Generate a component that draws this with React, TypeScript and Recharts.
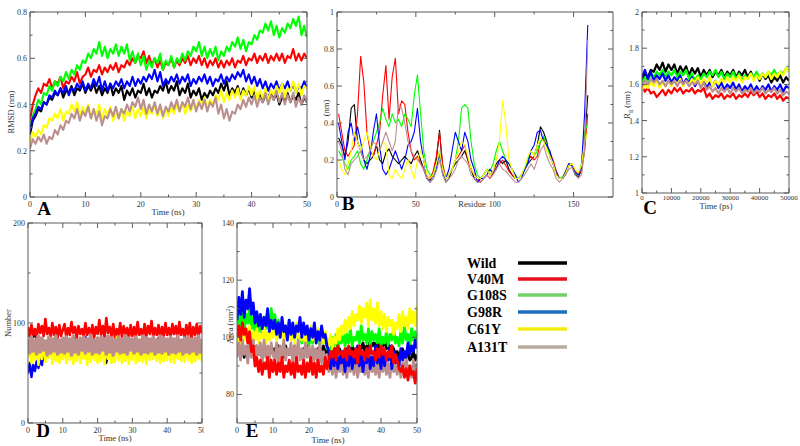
import React from 'react';
import { LineChart, Line, XAxis, YAxis } from 'recharts';

const SERIF = "'Liberation Serif', 'Times New Roman', Times, serif";
const FRAME = '#5a5a5a';
const INK = '#333333';

const names = ['Wild', 'V40M', 'G108S', 'G98R', 'C61Y', 'A131T'];
const keys = ['wild', 'v40m', 'g108s', 'g98r', 'c61y', 'a131t'];
const plotColors: Record<string, string> = {
  wild: '#000000',
  v40m: '#ff0000',
  g108s: '#00ff00',
  g98r: '#0000ff',
  c61y: '#ffff00',
  a131t: '#bc8f8f',
};
const legendColors = ['#000000', '#e8101c', '#74d06a', '#1f6fc0', '#f2ec12', '#b9ab9c'];

// ---- A: RMSD (nm) vs time (ns), every 0.5 ns
const halfNs = Array.from({ length: 101 }, (_, i) => i / 2);
const aWild = [0.27, 0.33, 0.35, 0.38, 0.37, 0.41, 0.4, 0.43, 0.42, 0.45, 0.44, 0.47, 0.43, 0.46, 0.45, 0.48, 0.44, 0.47, 0.46, 0.49, 0.45, 0.48, 0.46, 0.49, 0.45, 0.48, 0.44, 0.47, 0.45, 0.49, 0.44, 0.47, 0.45, 0.48, 0.42, 0.46, 0.44, 0.47, 0.43, 0.46, 0.45, 0.49, 0.44, 0.47, 0.43, 0.46, 0.45, 0.48, 0.46, 0.5, 0.45, 0.48, 0.46, 0.5, 0.44, 0.47, 0.45, 0.49, 0.43, 0.46, 0.44, 0.47, 0.42, 0.45, 0.43, 0.46, 0.44, 0.47, 0.45, 0.49, 0.46, 0.5, 0.44, 0.47, 0.45, 0.48, 0.43, 0.47, 0.44, 0.47, 0.43, 0.46, 0.42, 0.45, 0.41, 0.44, 0.43, 0.46, 0.42, 0.45, 0.4, 0.43, 0.42, 0.45, 0.41, 0.44, 0.42, 0.45, 0.4, 0.43, 0.41];
const aV40M = [0.33, 0.4, 0.44, 0.47, 0.45, 0.49, 0.48, 0.51, 0.47, 0.5, 0.49, 0.52, 0.47, 0.5, 0.49, 0.52, 0.5, 0.54, 0.49, 0.52, 0.53, 0.56, 0.52, 0.55, 0.54, 0.57, 0.53, 0.56, 0.54, 0.57, 0.55, 0.58, 0.54, 0.57, 0.56, 0.59, 0.57, 0.6, 0.58, 0.61, 0.6, 0.63, 0.58, 0.61, 0.57, 0.6, 0.56, 0.59, 0.55, 0.58, 0.57, 0.6, 0.56, 0.59, 0.57, 0.6, 0.58, 0.61, 0.57, 0.6, 0.58, 0.61, 0.57, 0.6, 0.56, 0.59, 0.57, 0.6, 0.56, 0.59, 0.56, 0.59, 0.57, 0.6, 0.56, 0.59, 0.58, 0.61, 0.57, 0.6, 0.59, 0.62, 0.58, 0.61, 0.59, 0.62, 0.58, 0.61, 0.59, 0.62, 0.59, 0.62, 0.58, 0.61, 0.6, 0.64, 0.59, 0.62, 0.59, 0.62, 0.6];
const aG108S = [0.3, 0.35, 0.38, 0.42, 0.4, 0.45, 0.44, 0.48, 0.46, 0.5, 0.48, 0.52, 0.5, 0.54, 0.51, 0.55, 0.53, 0.57, 0.55, 0.59, 0.58, 0.62, 0.6, 0.64, 0.62, 0.67, 0.61, 0.65, 0.6, 0.64, 0.62, 0.66, 0.61, 0.65, 0.62, 0.66, 0.59, 0.63, 0.58, 0.62, 0.57, 0.61, 0.55, 0.59, 0.56, 0.6, 0.58, 0.62, 0.55, 0.59, 0.57, 0.61, 0.56, 0.6, 0.58, 0.62, 0.59, 0.63, 0.61, 0.65, 0.63, 0.67, 0.61, 0.65, 0.6, 0.64, 0.61, 0.65, 0.59, 0.63, 0.61, 0.65, 0.63, 0.67, 0.65, 0.69, 0.64, 0.68, 0.63, 0.67, 0.66, 0.7, 0.68, 0.72, 0.71, 0.75, 0.72, 0.76, 0.7, 0.74, 0.69, 0.73, 0.71, 0.75, 0.73, 0.77, 0.74, 0.78, 0.7, 0.74, 0.69];
const aG98R = [0.29, 0.34, 0.36, 0.39, 0.38, 0.41, 0.4, 0.44, 0.43, 0.46, 0.44, 0.47, 0.45, 0.48, 0.44, 0.47, 0.46, 0.49, 0.47, 0.5, 0.46, 0.49, 0.47, 0.51, 0.48, 0.52, 0.46, 0.5, 0.46, 0.49, 0.47, 0.5, 0.48, 0.51, 0.47, 0.5, 0.48, 0.52, 0.48, 0.51, 0.49, 0.52, 0.5, 0.53, 0.51, 0.55, 0.5, 0.54, 0.48, 0.51, 0.49, 0.52, 0.5, 0.53, 0.49, 0.52, 0.5, 0.53, 0.48, 0.51, 0.49, 0.52, 0.5, 0.53, 0.49, 0.52, 0.48, 0.51, 0.5, 0.53, 0.49, 0.52, 0.5, 0.53, 0.51, 0.54, 0.52, 0.55, 0.5, 0.53, 0.49, 0.52, 0.48, 0.51, 0.47, 0.5, 0.46, 0.49, 0.47, 0.5, 0.46, 0.49, 0.47, 0.5, 0.46, 0.49, 0.45, 0.48, 0.47, 0.5, 0.47];
const aC61Y = [0.24, 0.28, 0.26, 0.29, 0.27, 0.31, 0.3, 0.34, 0.33, 0.36, 0.34, 0.38, 0.33, 0.37, 0.36, 0.4, 0.37, 0.41, 0.35, 0.39, 0.36, 0.4, 0.34, 0.38, 0.36, 0.4, 0.34, 0.38, 0.35, 0.39, 0.33, 0.37, 0.34, 0.38, 0.33, 0.37, 0.35, 0.39, 0.34, 0.38, 0.35, 0.39, 0.34, 0.38, 0.36, 0.4, 0.35, 0.39, 0.34, 0.38, 0.35, 0.39, 0.36, 0.4, 0.37, 0.41, 0.36, 0.4, 0.37, 0.41, 0.38, 0.42, 0.39, 0.43, 0.38, 0.42, 0.4, 0.44, 0.42, 0.46, 0.41, 0.45, 0.42, 0.46, 0.43, 0.47, 0.42, 0.46, 0.44, 0.48, 0.44, 0.48, 0.42, 0.46, 0.43, 0.47, 0.42, 0.46, 0.44, 0.48, 0.45, 0.49, 0.43, 0.47, 0.46, 0.5, 0.45, 0.49, 0.44, 0.48, 0.47];
const aA131T = [0.21, 0.25, 0.23, 0.26, 0.24, 0.27, 0.23, 0.26, 0.25, 0.29, 0.27, 0.31, 0.29, 0.33, 0.32, 0.36, 0.34, 0.38, 0.33, 0.37, 0.35, 0.39, 0.34, 0.38, 0.33, 0.37, 0.31, 0.35, 0.34, 0.38, 0.35, 0.39, 0.34, 0.38, 0.36, 0.4, 0.37, 0.41, 0.39, 0.43, 0.38, 0.42, 0.36, 0.4, 0.37, 0.41, 0.36, 0.4, 0.35, 0.39, 0.37, 0.41, 0.38, 0.42, 0.37, 0.41, 0.39, 0.43, 0.38, 0.42, 0.37, 0.41, 0.38, 0.42, 0.37, 0.41, 0.39, 0.43, 0.36, 0.4, 0.34, 0.38, 0.33, 0.37, 0.36, 0.4, 0.38, 0.42, 0.39, 0.43, 0.4, 0.44, 0.39, 0.43, 0.41, 0.45, 0.4, 0.44, 0.42, 0.46, 0.41, 0.45, 0.4, 0.44, 0.41, 0.45, 0.39, 0.43, 0.4, 0.44, 0.41];

// ---- B: RMSF (nm) per residue (odd residues 1..159)
const residues = Array.from({ length: 80 }, (_, i) => 1 + 2 * i);
const bWild = [0.32, 0.28, 0.22, 0.3, 0.48, 0.5, 0.3, 0.25, 0.2, 0.18, 0.2, 0.22, 0.28, 0.2, 0.18, 0.24, 0.26, 0.22, 0.2, 0.18, 0.2, 0.22, 0.2, 0.18, 0.22, 0.25, 0.2, 0.15, 0.1, 0.09, 0.12, 0.2, 0.36, 0.15, 0.08, 0.1, 0.15, 0.18, 0.2, 0.22, 0.25, 0.2, 0.15, 0.1, 0.08, 0.1, 0.12, 0.15, 0.12, 0.14, 0.18, 0.2, 0.18, 0.2, 0.15, 0.12, 0.1, 0.1, 0.12, 0.15, 0.18, 0.2, 0.22, 0.28, 0.38, 0.35, 0.3, 0.22, 0.18, 0.14, 0.1, 0.1, 0.13, 0.18, 0.17, 0.12, 0.11, 0.14, 0.3, 0.55];
const bV40M = [0.45, 0.35, 0.25, 0.22, 0.25, 0.28, 0.45, 0.76, 0.62, 0.35, 0.25, 0.22, 0.28, 0.35, 0.55, 0.71, 0.42, 0.65, 0.75, 0.45, 0.52, 0.5, 0.35, 0.25, 0.2, 0.22, 0.18, 0.15, 0.12, 0.1, 0.14, 0.22, 0.35, 0.18, 0.1, 0.12, 0.15, 0.2, 0.22, 0.25, 0.28, 0.2, 0.15, 0.12, 0.1, 0.08, 0.1, 0.12, 0.1, 0.13, 0.16, 0.18, 0.2, 0.17, 0.14, 0.12, 0.1, 0.1, 0.12, 0.15, 0.2, 0.22, 0.2, 0.22, 0.3, 0.32, 0.28, 0.24, 0.2, 0.14, 0.1, 0.1, 0.12, 0.17, 0.18, 0.14, 0.12, 0.14, 0.25, 0.45];
const bG108S = [0.25, 0.22, 0.18, 0.15, 0.2, 0.22, 0.25, 0.18, 0.15, 0.2, 0.25, 0.3, 0.35, 0.4, 0.48, 0.42, 0.38, 0.45, 0.4, 0.42, 0.38, 0.45, 0.42, 0.38, 0.55, 0.66, 0.45, 0.25, 0.15, 0.12, 0.12, 0.18, 0.22, 0.15, 0.1, 0.12, 0.15, 0.2, 0.3, 0.48, 0.5, 0.48, 0.3, 0.18, 0.12, 0.1, 0.12, 0.15, 0.14, 0.18, 0.25, 0.3, 0.25, 0.2, 0.18, 0.15, 0.12, 0.1, 0.12, 0.14, 0.2, 0.25, 0.22, 0.25, 0.3, 0.33, 0.28, 0.22, 0.18, 0.12, 0.1, 0.11, 0.14, 0.18, 0.17, 0.13, 0.12, 0.18, 0.35, 0.4];
const bG98R = [0.4, 0.3, 0.2, 0.35, 0.4, 0.3, 0.38, 0.3, 0.2, 0.15, 0.22, 0.35, 0.45, 0.28, 0.15, 0.12, 0.15, 0.2, 0.25, 0.2, 0.15, 0.2, 0.28, 0.3, 0.35, 0.48, 0.3, 0.2, 0.1, 0.08, 0.1, 0.15, 0.25, 0.12, 0.1, 0.15, 0.25, 0.35, 0.3, 0.25, 0.35, 0.3, 0.2, 0.15, 0.08, 0.1, 0.1, 0.12, 0.15, 0.13, 0.15, 0.2, 0.22, 0.2, 0.18, 0.15, 0.12, 0.08, 0.1, 0.15, 0.18, 0.25, 0.28, 0.35, 0.36, 0.3, 0.28, 0.25, 0.18, 0.13, 0.1, 0.1, 0.14, 0.18, 0.17, 0.13, 0.12, 0.16, 0.45, 0.93];
const bC61Y = [0.2, 0.15, 0.12, 0.18, 0.25, 0.35, 0.3, 0.25, 0.3, 0.35, 0.28, 0.22, 0.2, 0.25, 0.3, 0.28, 0.12, 0.1, 0.15, 0.12, 0.1, 0.15, 0.2, 0.15, 0.1, 0.2, 0.25, 0.2, 0.12, 0.1, 0.12, 0.18, 0.25, 0.15, 0.1, 0.12, 0.15, 0.2, 0.25, 0.3, 0.28, 0.22, 0.15, 0.12, 0.1, 0.1, 0.12, 0.15, 0.12, 0.14, 0.2, 0.3, 0.52, 0.4, 0.2, 0.15, 0.1, 0.1, 0.12, 0.16, 0.22, 0.25, 0.22, 0.28, 0.32, 0.3, 0.25, 0.22, 0.18, 0.12, 0.1, 0.1, 0.13, 0.17, 0.18, 0.15, 0.13, 0.17, 0.3, 0.35];
const bA131T = [0.3, 0.25, 0.15, 0.12, 0.18, 0.2, 0.22, 0.25, 0.2, 0.22, 0.25, 0.3, 0.28, 0.25, 0.3, 0.35, 0.3, 0.25, 0.3, 0.5, 0.48, 0.4, 0.3, 0.25, 0.22, 0.2, 0.18, 0.15, 0.1, 0.08, 0.1, 0.14, 0.2, 0.12, 0.08, 0.1, 0.12, 0.15, 0.2, 0.22, 0.2, 0.18, 0.12, 0.1, 0.08, 0.08, 0.1, 0.12, 0.1, 0.12, 0.15, 0.18, 0.15, 0.14, 0.12, 0.1, 0.08, 0.08, 0.1, 0.12, 0.15, 0.18, 0.15, 0.2, 0.25, 0.28, 0.22, 0.18, 0.15, 0.1, 0.08, 0.1, 0.12, 0.15, 0.16, 0.12, 0.1, 0.12, 0.25, 0.85];

// ---- C: Rg (nm) vs time (ps), every 1000 ps
const psTimes = Array.from({ length: 51 }, (_, i) => i * 1000);
const cWild = [1.62, 1.66, 1.64, 1.68, 1.67, 1.71, 1.68, 1.72, 1.67, 1.71, 1.68, 1.71, 1.66, 1.7, 1.67, 1.7, 1.65, 1.69, 1.66, 1.69, 1.64, 1.68, 1.65, 1.68, 1.64, 1.67, 1.65, 1.68, 1.64, 1.67, 1.65, 1.68, 1.64, 1.67, 1.65, 1.68, 1.64, 1.67, 1.63, 1.66, 1.62, 1.66, 1.63, 1.65, 1.61, 1.64, 1.62, 1.65, 1.61, 1.64, 1.62];
const cV40M = [1.59, 1.56, 1.58, 1.55, 1.56, 1.53, 1.55, 1.57, 1.54, 1.57, 1.55, 1.58, 1.56, 1.58, 1.55, 1.57, 1.56, 1.58, 1.55, 1.57, 1.56, 1.58, 1.53, 1.55, 1.52, 1.54, 1.53, 1.55, 1.52, 1.54, 1.53, 1.55, 1.52, 1.54, 1.53, 1.55, 1.53, 1.56, 1.54, 1.56, 1.53, 1.55, 1.52, 1.54, 1.53, 1.55, 1.52, 1.54, 1.51, 1.53, 1.52];
const cG108S = [1.61, 1.64, 1.62, 1.66, 1.64, 1.67, 1.65, 1.68, 1.64, 1.67, 1.65, 1.68, 1.64, 1.67, 1.65, 1.68, 1.63, 1.66, 1.62, 1.65, 1.63, 1.66, 1.64, 1.67, 1.65, 1.68, 1.64, 1.67, 1.63, 1.66, 1.64, 1.67, 1.63, 1.66, 1.62, 1.65, 1.63, 1.66, 1.64, 1.67, 1.63, 1.66, 1.64, 1.67, 1.65, 1.68, 1.64, 1.67, 1.66, 1.69, 1.67];
const cG98R = [1.64, 1.68, 1.63, 1.67, 1.62, 1.65, 1.63, 1.66, 1.62, 1.65, 1.61, 1.64, 1.62, 1.65, 1.6, 1.63, 1.61, 1.64, 1.59, 1.62, 1.6, 1.62, 1.58, 1.61, 1.59, 1.62, 1.58, 1.61, 1.57, 1.6, 1.58, 1.61, 1.57, 1.6, 1.56, 1.59, 1.57, 1.6, 1.56, 1.59, 1.56, 1.59, 1.57, 1.6, 1.56, 1.59, 1.57, 1.6, 1.56, 1.59, 1.58];
const cC61Y = [1.57, 1.6, 1.58, 1.61, 1.59, 1.62, 1.58, 1.61, 1.59, 1.62, 1.59, 1.62, 1.6, 1.63, 1.59, 1.62, 1.6, 1.63, 1.61, 1.64, 1.6, 1.63, 1.61, 1.64, 1.59, 1.62, 1.6, 1.63, 1.61, 1.64, 1.61, 1.64, 1.62, 1.65, 1.61, 1.64, 1.63, 1.66, 1.62, 1.65, 1.63, 1.66, 1.64, 1.67, 1.63, 1.66, 1.64, 1.67, 1.65, 1.69, 1.67];
const cA131T = [1.59, 1.62, 1.6, 1.63, 1.61, 1.63, 1.6, 1.62, 1.59, 1.62, 1.6, 1.62, 1.59, 1.62, 1.6, 1.62, 1.59, 1.61, 1.6, 1.62, 1.58, 1.61, 1.57, 1.59, 1.56, 1.58, 1.55, 1.58, 1.56, 1.58, 1.55, 1.58, 1.56, 1.58, 1.55, 1.57, 1.56, 1.58, 1.55, 1.57, 1.56, 1.58, 1.55, 1.57, 1.56, 1.58, 1.55, 1.57, 1.54, 1.56, 1.55];

// ---- D: number of H-bonds vs time (ns), every 0.5 ns
const dWild = [95, 87, 97, 86, 90, 80, 84, 76, 80, 74, 79, 75, 80, 74, 78, 76, 81, 75, 79, 74, 80, 75, 79, 76, 81, 74, 78, 75, 80, 76, 79, 74, 81, 75, 78, 76, 80, 74, 79, 75, 80, 76, 78, 74, 80, 60, 66, 75, 79, 74, 81, 76, 78, 75, 80, 74, 79, 76, 81, 75, 78, 74, 80, 76, 79, 75, 78, 74, 81, 76, 79, 75, 80, 74, 78, 76, 81, 75, 79, 74, 80, 76, 78, 75, 80, 74, 79, 76, 81, 75, 78, 74, 80, 76, 79, 75, 81, 74, 78, 76, 79];
const dV40M = [96, 86, 98, 88, 94, 85, 99, 90, 97, 87, 104, 89, 95, 86, 100, 88, 96, 85, 98, 87, 93, 99, 86, 95, 88, 101, 90, 96, 85, 97, 89, 94, 86, 100, 88, 95, 87, 98, 85, 96, 89, 103, 88, 97, 86, 105, 90, 96, 87, 99, 85, 94, 88, 100, 86, 97, 89, 95, 85, 98, 87, 96, 86, 101, 88, 94, 85, 99, 87, 97, 89, 102, 86, 95, 88, 98, 85, 96, 87, 100, 88, 95, 86, 99, 89, 97, 85, 101, 88, 94, 86, 98, 87, 100, 85, 96, 88, 99, 86, 97, 90];
const dG108S = [80, 74, 81, 75, 79, 73, 82, 76, 80, 74, 81, 75, 79, 74, 82, 76, 80, 73, 81, 75, 79, 74, 81, 76, 80, 73, 82, 75, 79, 74, 81, 77, 80, 73, 82, 75, 78, 74, 81, 76, 80, 73, 82, 75, 79, 74, 81, 76, 79, 73, 82, 75, 79, 74, 81, 76, 80, 73, 82, 75, 79, 74, 80, 76, 80, 73, 82, 75, 79, 74, 81, 76, 80, 72, 82, 75, 79, 74, 81, 76, 80, 73, 82, 75, 79, 74, 81, 76, 80, 73, 82, 75, 78, 74, 81, 76, 80, 73, 82, 75, 79];
const dG98R = [50, 60, 46, 58, 52, 62, 55, 64, 58, 70, 66, 76, 70, 78, 72, 80, 71, 79, 73, 81, 72, 80, 70, 82, 71, 79, 73, 84, 70, 81, 72, 78, 71, 86, 73, 80, 70, 83, 72, 79, 71, 82, 70, 78, 72, 84, 71, 80, 73, 77, 70, 81, 72, 79, 71, 83, 70, 78, 72, 80, 71, 79, 72, 82, 70, 78, 73, 81, 71, 84, 70, 79, 72, 80, 71, 85, 73, 78, 70, 82, 72, 80, 71, 78, 73, 81, 70, 79, 72, 83, 71, 78, 70, 80, 73, 79, 71, 82, 72, 78, 70];
const dC61Y = [66, 80, 60, 78, 63, 84, 58, 76, 64, 82, 61, 79, 65, 85, 59, 77, 62, 83, 60, 78, 64, 82, 60, 79, 63, 85, 59, 77, 62, 81, 60, 78, 64, 83, 58, 76, 61, 80, 63, 84, 60, 78, 62, 81, 59, 77, 64, 83, 60, 79, 61, 86, 63, 78, 60, 82, 62, 80, 59, 77, 63, 81, 60, 79, 62, 84, 61, 78, 59, 82, 63, 80, 64, 85, 62, 78, 60, 81, 62, 79, 63, 83, 61, 78, 60, 80, 64, 82, 62, 77, 61, 84, 63, 79, 60, 81, 62, 78, 64, 80, 61];
const dA131T = [84, 70, 86, 72, 83, 69, 87, 71, 85, 73, 82, 68, 86, 70, 84, 72, 87, 69, 83, 71, 85, 70, 86, 72, 84, 68, 87, 71, 83, 69, 85, 73, 86, 70, 84, 72, 88, 69, 83, 71, 85, 70, 86, 73, 84, 69, 87, 71, 85, 68, 83, 72, 86, 70, 84, 71, 87, 69, 85, 73, 84, 70, 86, 72, 83, 69, 87, 71, 85, 70, 84, 72, 86, 69, 83, 71, 87, 70, 85, 72, 84, 69, 86, 71, 84, 70, 87, 72, 83, 69, 85, 71, 86, 70, 84, 72, 85, 69, 87, 71, 84];

// ---- E: SASA area (nm2) vs time (ns), every 0.5 ns
const eWild = [94, 96, 95, 97, 93, 96, 95, 98, 94, 95, 96, 97, 94, 96, 93, 97, 95, 96, 94, 97, 95, 96, 94, 97, 95, 96, 93, 97, 95, 94, 96, 95, 97, 94, 96, 95, 93, 96, 94, 97, 95, 94, 96, 95, 93, 96, 94, 95, 97, 94, 96, 93, 95, 94, 96, 95, 94, 96, 93, 95, 94, 96, 95, 94, 97, 95, 96, 94, 97, 96, 98, 95, 97, 96, 99, 97, 98, 96, 99, 95, 98, 97, 99, 96, 98, 95, 97, 96, 94, 95, 93, 94, 96, 93, 95, 94, 92, 93, 95, 92, 94];
const eV40M = [100, 104, 99, 105, 101, 103, 98, 102, 95, 97, 90, 93, 88, 92, 87, 91, 89, 93, 86, 92, 88, 92, 87, 91, 88, 93, 86, 90, 88, 92, 87, 91, 86, 93, 88, 90, 87, 92, 86, 91, 88, 93, 87, 91, 86, 92, 88, 90, 87, 93, 89, 92, 95, 93, 96, 92, 97, 94, 95, 93, 96, 92, 97, 94, 95, 93, 96, 91, 97, 94, 95, 92, 96, 93, 97, 94, 95, 92, 96, 93, 97, 94, 96, 92, 95, 93, 97, 91, 94, 92, 89, 88, 90, 86, 89, 85, 90, 87, 88, 84, 89];
const eG108S = [103, 109, 104, 110, 102, 108, 105, 111, 103, 107, 101, 106, 102, 108, 100, 107, 103, 109, 101, 110, 104, 108, 102, 106, 101, 105, 100, 104, 102, 106, 101, 103, 99, 104, 100, 102, 98, 103, 99, 101, 97, 102, 98, 103, 99, 101, 97, 102, 98, 100, 96, 99, 95, 100, 97, 101, 96, 99, 98, 102, 97, 101, 98, 103, 97, 100, 99, 102, 98, 104, 99, 101, 98, 103, 97, 102, 99, 101, 98, 103, 97, 100, 98, 102, 97, 101, 99, 103, 98, 100, 97, 102, 98, 104, 99, 101, 97, 103, 99, 102, 98];
const eG98R = [106, 114, 108, 116, 107, 113, 110, 117, 108, 112, 105, 109, 104, 108, 103, 107, 104, 110, 102, 106, 103, 106, 101, 105, 100, 107, 102, 104, 99, 106, 101, 105, 100, 104, 102, 107, 100, 105, 101, 104, 99, 103, 100, 105, 98, 102, 99, 104, 100, 101, 97, 95, 89, 94, 90, 96, 89, 93, 91, 95, 88, 94, 90, 96, 89, 93, 91, 97, 90, 95, 88, 94, 91, 96, 89, 93, 90, 97, 91, 95, 89, 96, 90, 94, 92, 97, 89, 95, 91, 93, 90, 96, 92, 95, 93, 98, 94, 97, 95, 99, 96];
const eC61Y = [98, 102, 97, 103, 99, 101, 98, 104, 97, 102, 99, 103, 98, 101, 100, 104, 98, 102, 99, 103, 100, 104, 99, 103, 100, 105, 98, 102, 100, 104, 99, 103, 98, 105, 100, 102, 99, 104, 98, 103, 100, 104, 99, 102, 98, 103, 100, 101, 98, 102, 99, 97, 101, 96, 100, 98, 103, 99, 104, 101, 106, 102, 107, 103, 109, 104, 108, 106, 111, 105, 110, 107, 112, 104, 113, 106, 110, 105, 112, 104, 109, 103, 108, 102, 107, 104, 106, 101, 105, 103, 108, 102, 109, 104, 107, 103, 110, 105, 109, 104, 111];
const eA131T = [93, 98, 92, 99, 94, 97, 91, 98, 93, 99, 92, 97, 94, 98, 91, 99, 93, 97, 92, 98, 94, 92, 98, 91, 97, 93, 99, 92, 96, 94, 98, 91, 97, 93, 99, 92, 96, 91, 98, 93, 97, 91, 97, 92, 96, 90, 98, 91, 95, 92, 94, 88, 92, 87, 93, 86, 91, 88, 92, 87, 93, 86, 92, 88, 91, 87, 93, 86, 90, 88, 92, 87, 91, 86, 93, 88, 90, 87, 92, 86, 91, 88, 92, 87, 91, 86, 93, 88, 90, 87, 92, 86, 91, 88, 93, 87, 90, 86, 92, 88, 91];

function buildRows(xKey: string, xs: number[], cols: number[][]) {
  return xs.map((x, i) => {
    const row: Record<string, number> = { [xKey]: x };
    keys.forEach((k, j) => {
      row[k] = cols[j][i];
    });
    return row;
  });
}

const rowsA = buildRows('t', halfNs, [aWild, aV40M, aG108S, aG98R, aC61Y, aA131T]);
const rowsB = buildRows('r', residues, [bWild, bV40M, bG108S, bG98R, bC61Y, bA131T]);
const rowsC = buildRows('t', psTimes, [cWild, cV40M, cG108S, cG98R, cC61Y, cA131T]);
const rowsD = buildRows('t', halfNs, [dWild, dV40M, dG108S, dG98R, dC61Y, dA131T]);
const rowsE = buildRows('t', halfNs, [eWild, eV40M, eG108S, eG98R, eC61Y, eA131T]);

type Side = 'bottom' | 'top' | 'left' | 'right';

// xmgrace-style inward ticks, labels only on bottom/left majors
const makeTick = (side: Side, major: number[], fmt?: (v: number) => string, fs = 8, dy = 10) => (p: any) => {
  const v = p.payload.value as number;
  const isMajor = major.includes(v);
  const len = isMajor ? 5 : 2.5;
  const x = Number(p.x);
  const y = Number(p.y);
  let x2 = x;
  let y2 = y;
  if (side === 'bottom') y2 = y - len;
  if (side === 'top') y2 = y + len;
  if (side === 'left') x2 = x + len;
  if (side === 'right') x2 = x - len;
  return (
    <g>
      <line x1={x} y1={y} x2={x2} y2={y2} stroke={FRAME} strokeWidth={1} />
      {isMajor && fmt && side === 'bottom' && (
        <text x={x} y={y + dy} textAnchor="middle" fontFamily={SERIF} fontSize={fs} fill={INK}>
          {fmt(v)}
        </text>
      )}
      {isMajor && fmt && side === 'left' && (
        <text x={x - 3} y={y + 3} textAnchor="end" fontFamily={SERIF} fontSize={fs} fill={INK}>
          {fmt(v)}
        </text>
      )}
    </g>
  );
};

interface PanelProps {
  box: [number, number, number, number];
  pad: [number, number, number, number];
  data: Record<string, number>[];
  xKey: string;
  xDomain: [number, number];
  yDomain: [number, number];
  xMajor: number[];
  xMinor: number[];
  yMajor: number[];
  yMinor: number[];
  xFmt: (v: number) => string;
  yFmt: (v: number) => string;
  order: string[];
  widths: Record<string, number>;
  xFont?: number;
  xDy?: number;
}

function Panel(props: PanelProps) {
  const { box, pad, data, xKey, xDomain, yDomain, xMajor, xMinor, yMajor, yMinor, xFmt, yFmt, order, widths } = props;
  const [x0, y0, x1, y1] = box;
  const [pl, pt, pr, pb] = pad;
  const w = x1 - x0 + pl + pr;
  const h = y1 - y0 + pt + pb;
  const xt = [...xMajor, ...xMinor];
  const yt = [...yMajor, ...yMinor];
  return (
    <div style={{ position: 'absolute', left: x0 - pl, top: y0 - pt, width: w, height: h }}>
      <LineChart width={w} height={h} data={data} margin={{ top: pt - 1, right: pr - 1, bottom: 0, left: 0 }}>
        <XAxis xAxisId="b" dataKey={xKey} type="number" domain={xDomain} allowDataOverflow ticks={xt} interval={0}
          tickSize={0} tickMargin={0} tickLine={false} height={pb} axisLine={{ stroke: FRAME }}
          tick={makeTick('bottom', xMajor, xFmt, props.xFont ?? 8, props.xDy ?? 10)} />
        <XAxis xAxisId="t" orientation="top" dataKey={xKey} type="number" domain={xDomain} allowDataOverflow ticks={xt} interval={0}
          tickSize={0} tickMargin={0} tickLine={false} height={1} axisLine={{ stroke: FRAME }} tick={makeTick('top', xMajor)} />
        <YAxis yAxisId="l" type="number" domain={yDomain} allowDataOverflow ticks={yt} interval={0}
          tickSize={0} tickMargin={0} tickLine={false} width={pl} axisLine={{ stroke: FRAME }} tick={makeTick('left', yMajor, yFmt)} />
        <YAxis yAxisId="r" orientation="right" type="number" domain={yDomain} allowDataOverflow ticks={yt} interval={0}
          tickSize={0} tickMargin={0} tickLine={false} width={1} axisLine={{ stroke: FRAME }} tick={makeTick('right', yMajor)} />
        {order.map((k) => (
          <Line key={k} xAxisId="b" yAxisId="l" dataKey={k} type="linear" stroke={plotColors[k]} strokeWidth={widths[k]}
            strokeLinejoin="round" dot={false} activeDot={false} isAnimationActive={false} />
        ))}
      </LineChart>
    </div>
  );
}

const dec1 = (v: number) => (Number.isInteger(v) ? String(v) : v.toFixed(1));
const same = (w: number) => Object.fromEntries(keys.map((k) => [k, w]));

export default function App() {
  const title = { fontFamily: SERIF, fontSize: 8.5, fill: INK };
  const letter = { fontFamily: SERIF, fontSize: 19, fontWeight: 700, fill: '#000' };
  const legend = { fontFamily: SERIF, fontSize: 14, fontWeight: 700, fill: '#000' };
  return (
    <div style={{ position: 'fixed', left: 0, top: 0, width: 800, height: 446, background: '#fff', overflow: 'hidden' }}>
      <Panel box={[30, 12, 307, 197]} pad={[30, 12, 8, 20]} data={rowsA} xKey="t" xDomain={[0, 50]} yDomain={[0, 0.8]}
        xMajor={[0, 10, 20, 30, 40, 50]} xMinor={[5, 15, 25, 35, 45]} yMajor={[0, 0.2, 0.4, 0.6, 0.8]} yMinor={[0.1, 0.3, 0.5, 0.7]}
        xFmt={String} yFmt={dec1} order={keys} widths={same(2.1)} />
      <Panel box={[337, 12, 613, 197]} pad={[22, 12, 8, 20]} data={rowsB} xKey="r" xDomain={[0, 175]} yDomain={[0, 1]}
        xMajor={[0, 50, 100, 150]} xMinor={[25, 75, 125]} yMajor={[0, 0.2, 0.4, 0.6, 0.8, 1]} yMinor={[0.1, 0.3, 0.5, 0.7, 0.9]}
        xFmt={String} yFmt={dec1} order={keys} widths={same(1.1)} />
      <Panel box={[642, 12, 789, 193]} pad={[22, 12, 11, 20]} data={rowsC} xKey="t" xDomain={[0, 50000]} yDomain={[1, 2]}
        xMajor={[0, 10000, 20000, 30000, 40000, 50000]} xMinor={[5000, 15000, 25000, 35000, 45000]}
        yMajor={[1, 1.2, 1.4, 1.6, 1.8, 2]} yMinor={[1.1, 1.3, 1.5, 1.7, 1.9]}
        xFmt={String} yFmt={dec1} order={keys} widths={same(2.2)} xFont={7} xDy={7} />
      <Panel box={[28, 223, 202, 423]} pad={[28, 10, 1.6, 15]} data={rowsD} xKey="t" xDomain={[0, 50]} yDomain={[0, 200]}
        xMajor={[0, 10, 20, 30, 40, 50]} xMinor={[5, 15, 25, 35, 45]} yMajor={[0, 100, 200]} yMinor={[50, 150]}
        xFmt={String} yFmt={String} order={['wild', 'g108s', 'g98r', 'v40m', 'c61y', 'a131t']}
        widths={{ wild: 2, v40m: 2.6, g108s: 2, g98r: 2.4, c61y: 2.6, a131t: 3.6 }} />
      <Panel box={[237, 223, 417, 423]} pad={[25, 10, 8, 15]} data={rowsE} xKey="t" xDomain={[0, 50]} yDomain={[70, 140]}
        xMajor={[0, 10, 20, 30, 40, 50]} xMinor={[5, 15, 25, 35, 45]} yMajor={[80, 100, 120, 140]} yMinor={[90, 110, 130]}
        xFmt={String} yFmt={String} order={['wild', 'g108s', 'c61y', 'a131t', 'g98r', 'v40m']} widths={same(2.8)} />

      <svg width={800} height={446} style={{ position: 'absolute', left: 0, top: 0, pointerEvents: 'none' }}>
        {/* axis titles */}
        <text x={168} y={215} textAnchor="middle" style={title}>Time (ns)</text>
        <text transform="translate(14,112) rotate(-90)" textAnchor="middle" style={title}>RMSD (nm)</text>
        <text x={472} y={207} textAnchor="middle" style={title}>Residue</text>
        <text transform="translate(329,108) rotate(-90)" textAnchor="middle" style={title}>(nm)</text>
        <text x={716} y={209} textAnchor="middle" style={title}>Time (ps)</text>
        <text transform="translate(630,105) rotate(-90)" textAnchor="middle" style={title}>
          R<tspan dy={2} fontSize={6.5}>g</tspan><tspan dy={-2}> (nm)</tspan>
        </text>
        <text x={115} y={441} textAnchor="middle" style={title}>Time (ns)</text>
        <text transform="translate(11,323) rotate(-90)" textAnchor="middle" style={title}>Number</text>
        <text x={328} y={443} textAnchor="middle" style={title}>Time (ns)</text>
        <text transform="translate(233,325) rotate(-90)" textAnchor="middle" style={title}>
          Area (nm<tspan dy={-3} fontSize={6}>2</tspan><tspan dy={3}>)</tspan>
        </text>

        {/* panel letters */}
        <text x={44} y={215} textAnchor="middle" style={letter}>A</text>
        <text x={348} y={210} textAnchor="middle" style={letter}>B</text>
        <text x={650} y={214} textAnchor="middle" style={letter}>C</text>
        <text x={43} y={437} textAnchor="middle" style={letter}>D</text>
        <text x={252} y={437} textAnchor="middle" style={letter}>E</text>

        {/* legend */}
        {names.map((n, i) => {
          const cy = [263, 279, 295, 312, 329, 347][i];
          return (
            <g key={n}>
              <text x={467} y={cy + 5} style={legend}>{n}</text>
              <line x1={518} x2={567} y1={cy} y2={cy} stroke={legendColors[i]} strokeWidth={3.5} />
            </g>
          );
        })}
      </svg>
    </div>
  );
}
